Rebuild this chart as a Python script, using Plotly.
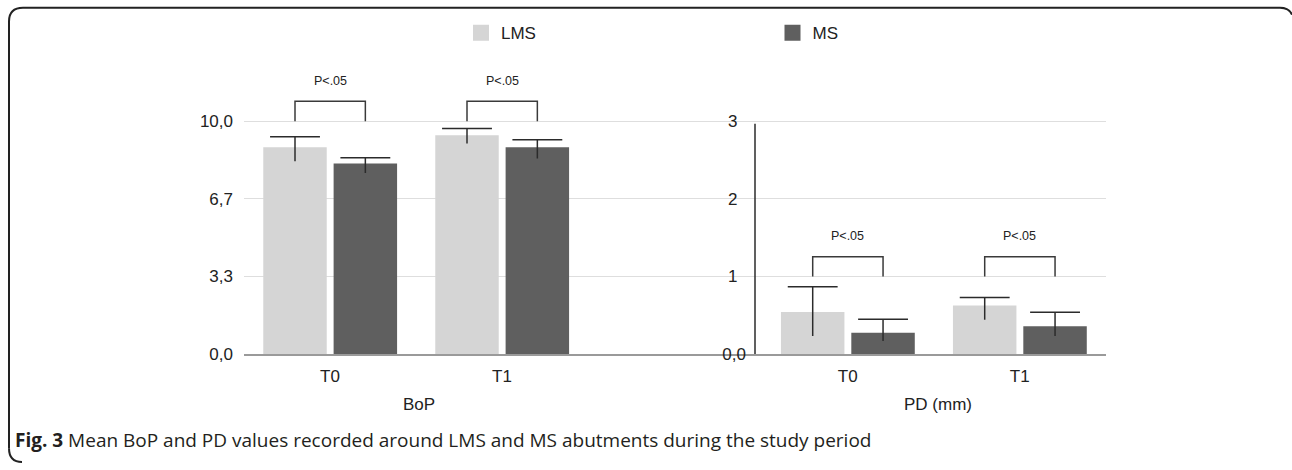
import plotly.graph_objects as go

# ---------------- data ----------------
categories = ["T0", "T1"]
series_names = ["LMS", "MS"]

bop_lms = [8.89, 9.40]
bop_lms_err_up = [0.45, 0.29]
bop_lms_err_down = [0.60, 0.35]
bop_ms = [8.19, 8.89]
bop_ms_err_up = [0.25, 0.32]
bop_ms_err_down = [0.41, 0.49]

pd_lms = [0.543, 0.627]
pd_lms_err_up = [0.324, 0.101]
pd_lms_err_down = [0.311, 0.185]
pd_ms = [0.274, 0.358]
pd_ms_err_up = [0.174, 0.181]
pd_ms_err_down = [0.107, 0.126]

bop_ticks = [0, 10 / 3, 20 / 3, 10]
bop_ticktext = ["0,0", "3,3", "6,7", "10,0"]
pd_ticks = [0, 1, 2, 3]
pd_ticktext = ["0,0", "1\u2002", "2\u2002", "3\u2002"]
sig_label = "P<.05"

# ---------------- geometry / style ----------------
W, H = 1292, 470
TOP_PX, BASE_PX, GRID_PX = 40, 361.7, 124
LEFT_X0, MID_X, RIGHT_X1 = 244, 755, 1105.7
CAT_PX = 172.0
scale = (BASE_PX - TOP_PX) / (BASE_PX - GRID_PX)
bop_range = [0, 10 * scale]
pd_range = [0, 3 * scale]
left_xrange = [-0.5, -0.5 + (MID_X - LEFT_X0) / CAT_PX]
right_xrange = [1.5 - (RIGHT_X1 - MID_X) / CAT_PX, 1.5]

BAR_W = 0.369
LMS_OFF = -0.388
MS_OFF = 0.021
LMS_C = LMS_OFF + BAR_W / 2
MS_C = MS_OFF + BAR_W / 2
CAP = 0.145

C_LMS = "#d5d5d5"
C_MS = "#5f5f5f"
C_LINE = "#2b2b2b"
FONT = "Liberation Sans"


def px(p):
    return p / W


def py(p):
    return 1 - p / H


xs = [0, 1]

fig = go.Figure()


def add_panel(xa, ya, lms, lms_up, lms_dn, ms, ms_up, ms_dn):
    fig.add_trace(go.Bar(x=xs, y=lms, width=BAR_W, offset=LMS_OFF, marker_color=C_LMS,
                         marker_line_width=0, name="LMS", showlegend=False,
                         legendgroup="LMS", xaxis=xa, yaxis=ya))
    fig.add_trace(go.Bar(x=xs, y=ms, width=BAR_W, offset=MS_OFF, marker_color=C_MS,
                         marker_line_width=0, name="MS", showlegend=False,
                         legendgroup="MS", xaxis=xa, yaxis=ya))
    ex, ey = [], []
    for vals, up, dn, c in ((lms, lms_up, lms_dn, LMS_C), (ms, ms_up, ms_dn, MS_C)):
        for i, v in enumerate(vals):
            xc = xs[i] + c
            ex += [xc, xc, None, xc - CAP, xc + CAP, None]
            ey += [v - dn[i], v + up[i], None, v + up[i], v + up[i], None]
    fig.add_trace(go.Scatter(x=ex, y=ey, mode="lines", line=dict(color=C_LINE, width=1.5),
                             showlegend=False, hoverinfo="skip", xaxis=xa, yaxis=ya))


add_panel("x", "y", bop_lms, bop_lms_err_up, bop_lms_err_down,
          bop_ms, bop_ms_err_up, bop_ms_err_down)
add_panel("x2", "y2", pd_lms, pd_lms_err_up, pd_lms_err_down,
          pd_ms, pd_ms_err_up, pd_ms_err_down)


# significance brackets
def add_bracket(xa, ya, base, top, label_y):
    bx, by = [], []
    for x in xs:
        bx += [x + LMS_C, x + LMS_C, x + MS_C, x + MS_C, None]
        by += [base, top, top, base, None]
        fig.add_annotation(x=x + (LMS_C + MS_C) / 2, y=label_y, xref=xa, yref=ya,
                           xanchor="center", yanchor="middle",
                           text=sig_label, showarrow=False,
                           font=dict(family=FONT, size=12.5, color="#222"))
    fig.add_trace(go.Scatter(x=bx, y=by, mode="lines", line=dict(color="#3a3a3a", width=1.5),
                             showlegend=False, hoverinfo="skip", xaxis=xa, yaxis=ya))


add_bracket("x", "y", 10.0, 10.86, 11.74)
add_bracket("x2", "y2", 1.0, 1.255, 1.516)

# legend proxies
fig.add_trace(go.Scatter(x=[None], y=[None], mode="markers", name="LMS", legendgroup="LMS",
                         marker=dict(symbol="square", size=16, color=C_LMS), legend="legend"))
fig.add_trace(go.Scatter(x=[None], y=[None], mode="markers", name="MS", legendgroup="MS",
                         marker=dict(symbol="square", size=16, color=C_MS), legend="legend2"))

tickfont = dict(family=FONT, size=17, color="#222")
common_x = dict(tickmode="array", tickvals=xs, ticktext=categories, showgrid=False,
                zeroline=False, showline=True, linecolor="#9a9a9a", linewidth=2,
                ticks="", tickfont=tickfont, ticklabelstandoff=6, fixedrange=True)
fig.update_layout(
    width=W, height=H, autosize=False,
    margin=dict(l=0, r=0, t=0, b=0),
    paper_bgcolor="white", plot_bgcolor="white",
    barmode="overlay",
    xaxis=dict(domain=[px(LEFT_X0), px(MID_X)], range=left_xrange, anchor="y", **common_x),
    xaxis2=dict(domain=[px(MID_X), px(RIGHT_X1)], range=right_xrange, anchor="y2", **common_x),
    yaxis=dict(domain=[py(BASE_PX), py(TOP_PX)], range=bop_range, tickmode="array",
               tickvals=bop_ticks, ticktext=bop_ticktext, showgrid=True,
               gridcolor="#dedede", gridwidth=1, zeroline=False, showline=False,
               ticks="", tickfont=tickfont, ticklabelstandoff=10, anchor="x"),
    yaxis2=dict(domain=[py(BASE_PX), py(TOP_PX)], range=pd_range, tickmode="array",
                tickvals=pd_ticks, ticktext=pd_ticktext, showgrid=True,
                gridcolor="#dedede", gridwidth=1, zeroline=False, showline=False,
                ticks="", tickfont=tickfont, ticklabelstandoff=8, anchor="x2"),
    legend=dict(orientation="h", x=px(461), xanchor="left", y=py(34), yanchor="middle",
                font=dict(family=FONT, size=17, color="#222"), bgcolor="rgba(0,0,0,0)",
                borderwidth=0, itemclick=False, itemdoubleclick=False),
    legend2=dict(orientation="h", x=px(772.5), xanchor="left", y=py(34), yanchor="middle",
                 font=dict(family=FONT, size=17, color="#222"), bgcolor="rgba(0,0,0,0)",
                 borderwidth=0, itemclick=False, itemdoubleclick=False),
    showlegend=True,
)

# right y-axis vertical line
fig.add_shape(type="line", xref="x2 domain", yref="y2", x0=0, x1=0, y0=-0.03, y1=2.97,
              line=dict(color=C_LINE, width=1.5))

# axis titles
fig.add_annotation(x=px(419), y=py(413), xref="paper", yref="paper", text="BoP",
                   xanchor="center", yanchor="middle",
                   showarrow=False, font=dict(family=FONT, size=17, color="#222"))
fig.add_annotation(x=px(938.5), y=py(413), xref="paper", yref="paper", text="PD (mm)",
                   xanchor="center", yanchor="middle",
                   showarrow=False, font=dict(family=FONT, size=17, color="#222"))

# caption
fig.add_annotation(x=px(13), y=py(450), xref="paper", yref="paper", xanchor="left",
                   yanchor="middle",
                   text="<b>Fig. 3</b> Mean BoP and PD values recorded around LMS and MS abutments during the study period",
                   showarrow=False, font=dict(family="Open Sans", size=19, color="#231f20"))

# rounded frame
frame_path = (f"M {px(9)},{py(458)} L {px(9)},{py(22)} Q {px(9)},{py(8)} {px(23)},{py(8)} "
              f"L {px(1280)},{py(8)} Q {px(1289)},{py(8)} {px(1292)},{py(15)}")
fig.add_shape(type="path", xref="paper", yref="paper", path=frame_path,
              line=dict(color="#222", width=2))
frame_path2 = f"M {px(9)},{py(458)} Q {px(9)},{py(472)} {px(22)},{py(472)}"
fig.add_shape(type="path", xref="paper", yref="paper", path=frame_path2,
              line=dict(color="#222", width=2))

fig.write_html("out.html")
